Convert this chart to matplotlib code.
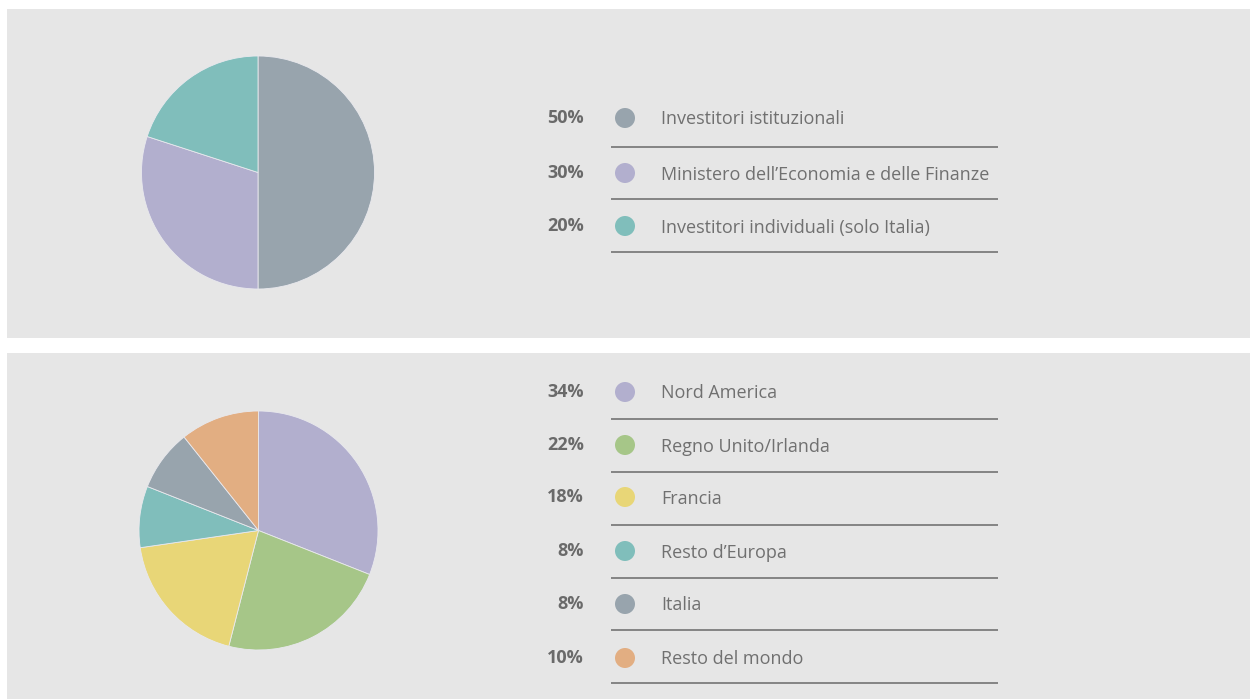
import matplotlib
matplotlib.use("Agg")
import matplotlib.pyplot as plt
from matplotlib.patches import Rectangle, Circle

# ---------------------------------------------------------------------------
# Data
# ---------------------------------------------------------------------------
top_labels = ["Investitori istituzionali",
              "Ministero dell\u2019Economia e delle Finanze",
              "Investitori individuali (solo Italia)"]
top_pct = [50, 30, 20]
top_colors = ["#98a4ad", "#b2afce", "#80bebb"]

bottom_labels = ["Nord America", "Regno Unito/Irlanda", "Francia",
                 "Resto d\u2019Europa", "Italia", "Resto del mondo"]
bottom_pct = [34, 22, 18, 8, 8, 10]
# wedge sizes as actually drawn in the picture (differ slightly from labels)
bottom_wedges = [31, 23, 18.7, 8.3, 8.3, 10.7]
bottom_colors = ["#b2afce", "#a6c688", "#e8d677", "#80bebb", "#98a4ad", "#e2ae82"]

W, H = 1251, 699
BG = "#e6e6e6"
TXT = "#707070"
RULE = "#6a6a6a"

plt.rcParams["font.family"] = ["Open Sans", "DejaVu Sans"]

fig = plt.figure(figsize=(W / 100, H / 100), dpi=100)
fig.patch.set_facecolor("white")

# overlay axes in pixel coordinates (y down)
base = fig.add_axes([0, 0, 1, 1])
base.set_xlim(0, W)
base.set_ylim(H, 0)
base.axis("off")

# grey panels
base.add_patch(Rectangle((7, 9), 1243, 329, facecolor=BG, edgecolor="none"))
base.add_patch(Rectangle((7, 353), 1243, 346, facecolor=BG, edgecolor="none"))


def draw_pie(cx, cy, r, values, colors):
    ax = fig.add_axes([(cx - r) / W, (H - cy - r) / H, 2 * r / W, 2 * r / H])
    ax.pie(values, colors=colors, startangle=90, counterclock=False,
           radius=1, wedgeprops=dict(linewidth=0.6, edgecolor="#e9e9ee"))
    ax.set_xlim(-1, 1)
    ax.set_ylim(-1, 1)
    ax.set_aspect("auto")
    ax.axis("off")


def draw_legend(row_y, rule_y, labels, values, colors):
    for y, lab, v, c in zip(row_y, labels, values, colors):
        base.text(584, y + 1, f"{v}%", ha="right", va="center", fontsize=13,
                  color="#6a6a6a", fontweight="bold")
        base.add_patch(Circle((625, y + 1), 10, facecolor=c, edgecolor="none"))
        base.text(661, y + 2.5, lab, ha="left", va="center", fontsize=13,
                  color=TXT)
    for y in rule_y:
        base.plot([611, 998], [y, y], color=RULE, lw=1.1, solid_capstyle="butt")


draw_pie(258, 172.5, 116.5, top_pct, top_colors)
draw_legend([117, 172, 225], [147, 199, 252], top_labels, top_pct, top_colors)

draw_pie(258.5, 530.5, 119.5, bottom_wedges, bottom_colors)
draw_legend([391, 444, 496, 550, 603, 657], [419, 472, 525, 578, 630, 683],
            bottom_labels, bottom_pct, bottom_colors)

fig.savefig("out.png", dpi=100, facecolor=fig.get_facecolor())
